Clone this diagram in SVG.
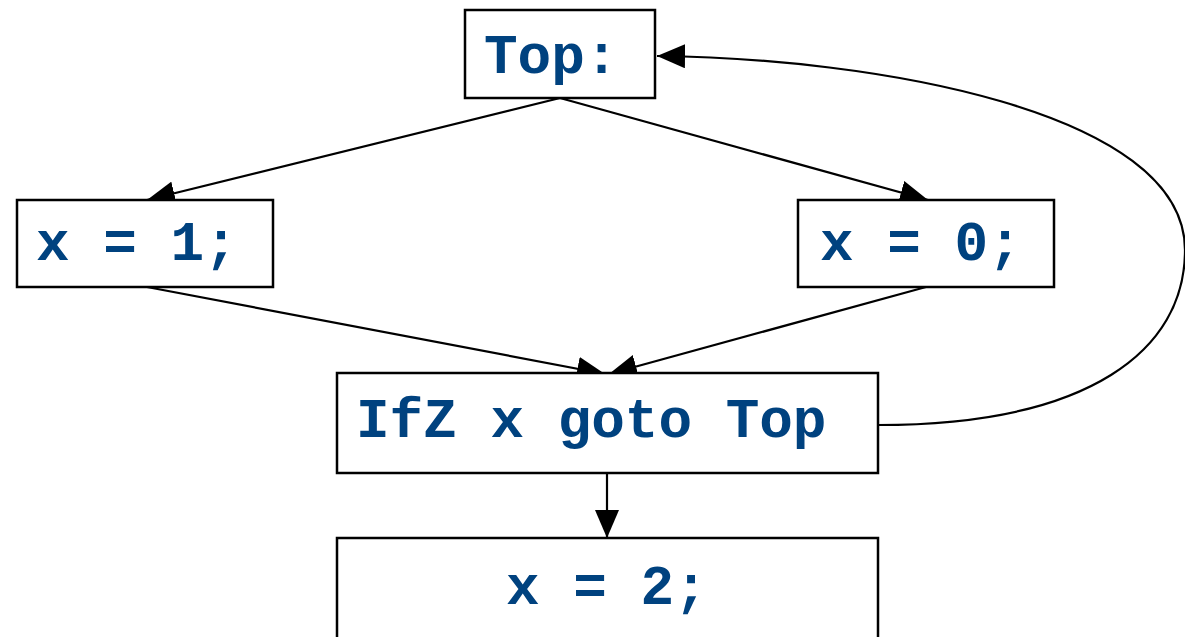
<svg xmlns="http://www.w3.org/2000/svg" width="1185" height="637" viewBox="0 0 1185 637">
<style>
.box{fill:#fff;stroke:#000;stroke-width:2.5}
.lbl{font-family:"Liberation Mono","Courier New",monospace;font-weight:bold;font-size:56px;fill:#00427f}
.edge{fill:none;stroke:#000;stroke-width:2.2}
</style>
<defs>
<marker id="arr" viewBox="0 0 28 24" refX="28" refY="12" markerWidth="28" markerHeight="24" markerUnits="userSpaceOnUse" orient="auto">
<path d="M0,0 L28,12 L0,24 Z" fill="#000"/>
</marker>
</defs>
<g id="connectors">
<path class="edge" d="M560,98 L147,200" marker-end="url(#arr)"/>
<path class="edge" d="M560,98 L928,200" marker-end="url(#arr)"/>
<path class="edge" d="M147,287 L605,374" marker-end="url(#arr)"/>
<path class="edge" d="M926,287 L609,374" marker-end="url(#arr)"/>
<path class="edge" d="M607,473 L607,538" marker-end="url(#arr)"/>
<path class="edge" d="M878,425 C1090,425 1185,350 1185,250 C1185,110 870,58 657,56" marker-end="url(#arr)"/>
</g>
<g id="top">
<rect class="box" x="465" y="10" width="190" height="88"/>
<text class="lbl" x="484" y="73">Top:</text>
</g>
<g id="x1">
<rect class="box" x="17" y="200" width="256" height="87"/>
<text class="lbl" x="36" y="260">x = 1;</text>
</g>
<g id="x0">
<rect class="box" x="798" y="200" width="256" height="87"/>
<text class="lbl" x="820" y="260">x = 0;</text>
</g>
<g id="ifz">
<rect class="box" x="337" y="373" width="541" height="100"/>
<text class="lbl" x="356" y="437">IfZ x goto Top</text>
</g>
<g id="x2">
<rect class="box" x="337" y="538" width="541" height="110"/>
<text class="lbl" x="506" y="604">x = 2;</text>
</g>
</svg>
